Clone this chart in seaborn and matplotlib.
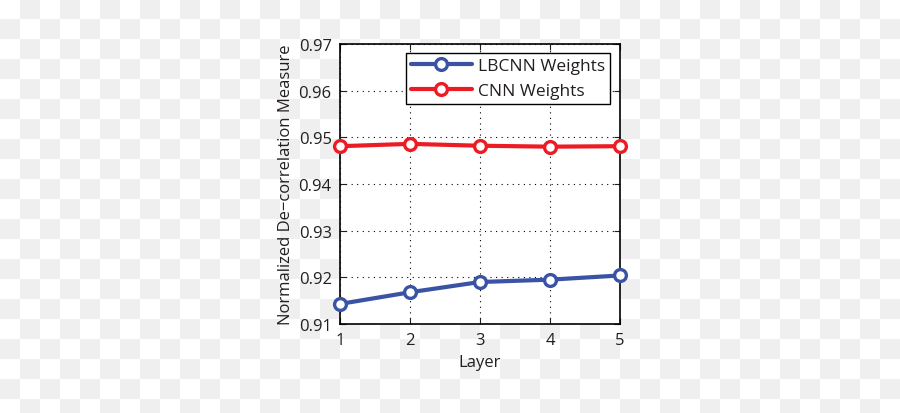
import numpy as np
import pandas as pd
import matplotlib
matplotlib.use("Agg")
import matplotlib.pyplot as plt
import seaborn as sns

layers = [1, 2, 3, 4, 5]
lbcnn_weights = [0.9143, 0.9168, 0.9190, 0.9195, 0.9204]
cnn_weights = [0.9481, 0.9486, 0.9482, 0.9480, 0.9481]
series_names = ["LBCNN Weights", "CNN Weights"]
xticks = [1, 2, 3, 4, 5]
yticks = [0.91, 0.92, 0.93, 0.94, 0.95, 0.96, 0.97]

df = pd.DataFrame({
    "Layer": layers * 2,
    "Value": lbcnn_weights + cnn_weights,
    "Series": [series_names[0]] * len(layers) + [series_names[1]] * len(layers),
})

sns.set_style("ticks")
plt.rcParams["font.family"] = ["Open Sans", "DejaVu Sans"]

W, H = 900, 414
fig = plt.figure(figsize=(9, 4.14), dpi=100)
fig.patch.set_alpha(0)

# checkerboard background (transparency pattern)
yy, xx = np.mgrid[0:H, 0:W]
checker = ((xx // 20 + yy // 20) % 2).astype(float)
bg = np.where(checker[..., None] == 1, 0xef / 255, 1.0) * np.ones((H, W, 3))
fig.figimage(bg, xo=0, yo=0, origin="upper", zorder=-10)

ax = fig.add_axes([340 / 900, 1 - 325 / 414, 280 / 900, 280 / 414])
ax.set_facecolor("white")

palette = {"LBCNN Weights": "#3a53a4", "CNN Weights": "#ed1c24"}
sns.lineplot(data=df, x="Layer", y="Value", hue="Series", palette=palette,
             marker="o", markersize=8.5, markerfacecolor="white",
             markeredgewidth=2.4, linewidth=3.0, ax=ax, legend=True,
             clip_on=False)
for ln in ax.lines:
    ln.set_markeredgecolor(ln.get_color())
    ln.set_zorder(5)

ax.set_xlim(1, 5)
ax.set_ylim(0.91, 0.97)
ax.set_xticks(xticks)
ax.set_xticklabels([str(x) for x in xticks])
ax.set_yticks(yticks)
ax.set_yticklabels([f"{v:.2f}" for v in yticks])
ax.grid(True, linestyle=(0, (1, 4)), color="black", linewidth=0.8)
ax.tick_params(direction="in", length=4, width=0.8, top=True, right=True,
               labelsize=12, colors="#231f20", pad=6)
for sp in ax.spines.values():
    sp.set_visible(True)
    sp.set_color("black")
    sp.set_linewidth(1.2)

ax.set_xlabel("Layer", fontsize=12, labelpad=4, color="#231f20")
ax.set_ylabel("Normalized De\u2212correlation Measure", fontsize=12, labelpad=3,
              color="#231f20")

leg = ax.legend(loc="upper right", bbox_to_anchor=(0.964, 0.968), fontsize=12.5,
                frameon=True, fancybox=False, framealpha=1, edgecolor="black",
                handlelength=3.5, borderpad=0.3, labelspacing=0.5,
                handletextpad=0.35, borderaxespad=0)
leg.get_frame().set_linewidth(1.0)
for t in leg.get_texts():
    t.set_color("#231f20")
for h in leg.get_lines():
    h.set_markerfacecolor("white")
    h.set_markeredgecolor(h.get_color())

fig.savefig("out.png", dpi=100)
